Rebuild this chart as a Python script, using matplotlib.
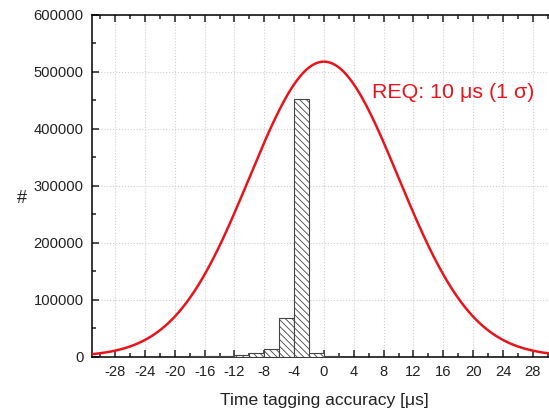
import numpy as np
import matplotlib
matplotlib.use("Agg")
import matplotlib.pyplot as plt
from matplotlib.ticker import MultipleLocator

plt.rcParams['font.family'] = ['Liberation Sans', 'DejaVu Sans']
plt.rcParams['axes.unicode_minus'] = False
plt.rcParams['hatch.linewidth'] = 0.6
plt.rcParams['hatch.color'] = '#555555'

# histogram bins (left edges, width 2 us) and counts
bin_left = [-18, -16, -14, -12, -10, -8, -6, -4, -2, 0]
counts = [400, 800, 1500, 3000, 5500, 14000, 68000, 452000, 7000, 800]
bin_width = 2

# requirement gaussian: 10 us (1 sigma)
req_amp = 518000
req_sigma = 10
req_mu = 0

fig = plt.figure(figsize=(5.49, 4.12), dpi=100)
ax = fig.add_axes([0.1676, 0.1347, 0.845, 0.829])

ax.bar(bin_left, counts, width=bin_width, align='edge', color='white',
       edgecolor='#444444', linewidth=0.8, hatch='\\\\\\\\\\', zorder=3)

x = np.linspace(-31.1, 31.1, 400)
ax.plot(x, req_amp * np.exp(-0.5 * ((x - req_mu) / req_sigma) ** 2),
        color='#e8141c', linewidth=1.8, zorder=4)

ax.text(6.4, 464500, 'REQ: 10 μs (1 σ)', color='#e8141c', fontsize=15.4,
        va='center', ha='left')

ax.set_xlim(-31.1, 31.1)
ax.set_ylim(0, 600000)
ax.xaxis.set_major_locator(MultipleLocator(4))
ax.xaxis.set_minor_locator(MultipleLocator(2))
ax.yaxis.set_major_locator(MultipleLocator(100000))
ax.yaxis.set_minor_locator(MultipleLocator(50000))
ax.set_xticks(np.arange(-28, 29, 4))

ax.grid(True, which='major', linestyle=':', color='#d0d0d0', linewidth=0.8, zorder=0)
ax.tick_params(which='both', direction='in', top=True, right=True, labelsize=10.6,
               width=1.1, color='#222222', labelcolor='#222222')
ax.tick_params(which='major', length=5, pad=6)
ax.tick_params(which='minor', length=3)
for s in ax.spines.values():
    s.set_linewidth(1.1)

ax.set_xlabel('Time tagging accuracy [μs]', fontsize=12.6, labelpad=10, color='#222222')
ax.set_ylabel('#', fontsize=13, rotation=0, va='center', color='#222222')
ax.yaxis.set_label_coords(-0.152, 0.463)

fig.savefig('out.png', dpi=100)
